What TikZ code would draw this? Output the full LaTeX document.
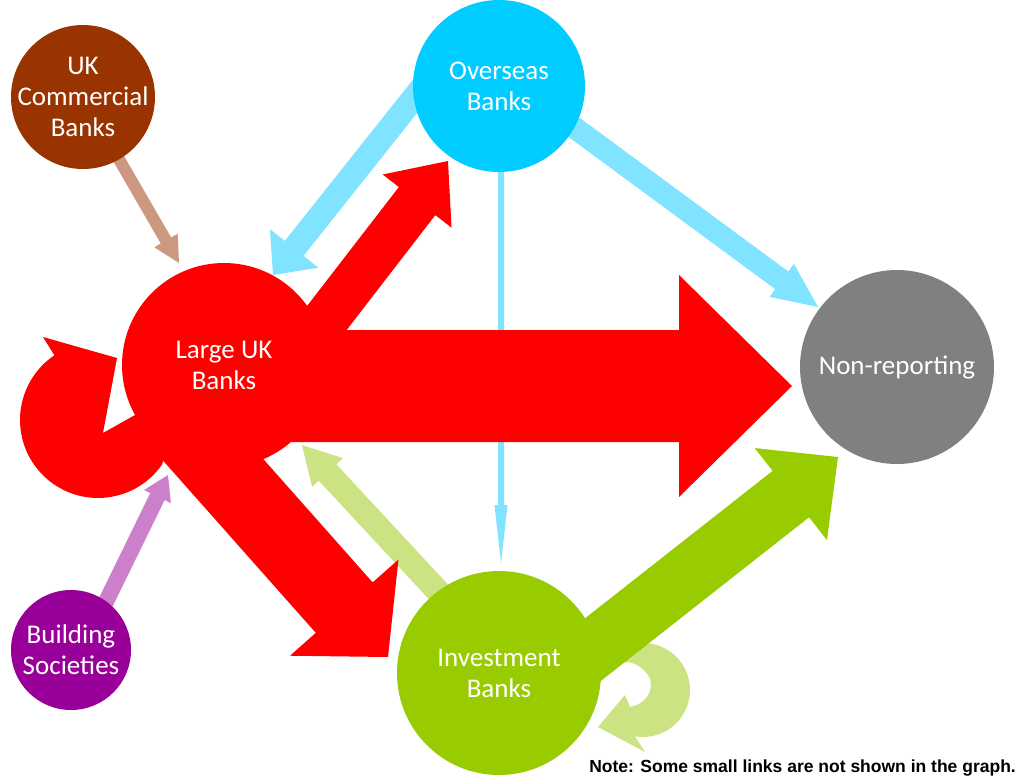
\documentclass[tikz,border=0pt]{standalone}
\usepackage{fontspec}
\setmainfont{Carlito}
\newfontfamily\notefont{Liberation Sans}
\usetikzlibrary{calc}
\definecolor{cBrown}{HTML}{993300}
\definecolor{cCyan}{HTML}{00CCFF}
\definecolor{cRed}{HTML}{FF0000}
\definecolor{cGray}{HTML}{808080}
\definecolor{cGreen}{HTML}{99CC00}
\definecolor{cPurple}{HTML}{990099}
\definecolor{lCyan}{HTML}{80E3FF}
\definecolor{lBrown}{HTML}{CC9980}
\definecolor{lGreen}{HTML}{CCE384}
\definecolor{lPurple}{HTML}{CC80CC}
% fat filled arrow: colour, start, tip, shaft half width, head half width, head length
\newcommand\fatarrow[6]{%
  \coordinate (fa-s) at (#2);
  \coordinate (fa-e) at (#3);
  \coordinate (fa-h) at ($(fa-e)!#6!(fa-s)$);
  \fill[#1] ($(fa-s)!#4!90:(fa-e)$) -- ($(fa-h)!#4!90:(fa-e)$) -- ($(fa-h)!#5!90:(fa-e)$)
    -- (fa-e) -- ($(fa-h)!#5!-90:(fa-e)$) -- ($(fa-h)!#4!-90:(fa-e)$) -- ($(fa-s)!#4!-90:(fa-e)$) -- cycle;
}
\tikzset{
  bank/.style={circle, inner sep=0pt, minimum size=#1},
  lbl/.style={text=white, align=center, font=\fontsize{27}{31}\selectfont},
}
\begin{document}
\begin{tikzpicture}[x=1pt,y=-1pt]
\useasboundingbox (0,0) rectangle (1029,780);
\fill[white] (0,0) rectangle (1029,780);

% node centres
\path
  (83,97)   coordinate (ukcbc)
  (499,86)  coordinate (osbc)
  (224,365) coordinate (lukbc)
  (897,367) coordinate (nonrepc)
  (499,673) coordinate (invbc)
  (71,650)  coordinate (bsc);

% arrow end points
\coordinate (s1) at (ukcbc);
\coordinate (e1) at ($(lukbc)+(-45,-102)$);
\coordinate (s2) at ($(osbc)+(-71,-6)$);
\coordinate (e2) at ($(lukbc)+(49,-90)$);
\coordinate (s3) at ($(lukbc)+(72,-7)$);
\coordinate (e3) at ($(osbc)+(-51,75)$);
\coordinate (s4) at ($(osbc)+(61,31)$);
\coordinate (e4) at ($(nonrepc)+(-79,-60)$);
\coordinate (s5) at ($(osbc)+(2,64)$);
\coordinate (e5) at ($(invbc)+(2,-110)$);
\coordinate (s6) at ($(lukbc)+(6,21)$);
\coordinate (e6) at ($(nonrepc)+(-105,19)$);
\coordinate (s7) at ($(lukbc)+(-55,45)$);
\coordinate (e7) at ($(invbc)+(-111,-16)$);
\coordinate (s8) at ($(invbc)+(-27,-45)$);
\coordinate (e8) at ($(lukbc)+(78,80)$);
\coordinate (s9) at ($(invbc)+(40,19)$);
\coordinate (e9) at ($(nonrepc)+(-59,90)$);
\coordinate (s10) at ($(bsc)+(9,5)$);
\coordinate (e10) at ($(lukbc)+(-56,110)$);

% investment banks self loop
\begin{scope}[shift={(invbc)}]
  \fill[lGreen] (131,34) .. controls (151,30) and (156,12) .. (149,2)
    .. controls (143,-6) and (136,-10) .. (129,-11) -- (96,-5) -- (105.5,-10)
    arc[start angle=215, end angle=460, radius=47] -- (146,79) -- (99,54) -- (126,22) -- cycle;
\end{scope}

% light arrows
\fatarrow{lBrown}{s1}{e1}{6pt}{13.5pt}{26pt}
\fatarrow{lCyan}{s2}{e2}{12pt}{31pt}{34pt}
\fatarrow{lCyan}{s4}{e4}{11pt}{20.5pt}{45pt}
\fatarrow{lCyan}{s5}{e5}{3pt}{6.5pt}{58pt}
\fatarrow{lGreen}{s8}{e8}{12pt}{21pt}{37.5pt}
\fatarrow{lPurple}{s10}{e10}{8pt}{15pt}{24pt}

% large UK banks self loop
\begin{scope}[shift={(lukbc)}]
  \fill[cRed] (-121,68) -- (-89,50) -- (-49,60) -- (-62.1,99.7)
    arc[start angle=35, end angle=236, radius=78] -- (-181,-28) -- (-107,-7) -- cycle;
\end{scope}

% heavy arrows
\fatarrow{cRed}{s3}{e3}{23pt}{43.5pt}{50.6pt}
\fatarrow{cRed}{s6}{e6}{56pt}{111pt}{113pt}
\fatarrow{cRed}{s7}{e7}{38pt}{72.5pt}{66pt}
\fatarrow{cGreen}{s9}{e9}{29.5pt}{58.5pt}{60pt}

% circles
\node[bank=144pt, fill=cBrown, label={[lbl]center:UK\\Commercial\\Banks}] (ukcb) at (ukcbc) {};
\node[bank=172pt, fill=cCyan, label={[lbl]center:Overseas\\Banks}] (osb) at (osbc) {};
\node[bank=204pt, fill=cRed, label={[lbl]center:Large UK\\Banks}] (lukb) at (lukbc) {};
\node[bank=194pt, fill=cGray, label={[lbl]center:Non-reporting}] (nonrep) at (nonrepc) {};
\node[bank=204pt, fill=cGreen, label={[lbl]center:Investment\\Banks}] (invb) at (invbc) {};
\node[bank=120pt, fill=cPurple, label={[lbl]center:Building\\Societies}] (bs) at (bsc) {};

\node[anchor=base east, inner sep=0pt, font=\notefont\bfseries\fontsize{17.5}{20}\selectfont] (note) at (1016,772) {Note: Some small links are not shown in the graph.};
\end{tikzpicture}
\end{document}
